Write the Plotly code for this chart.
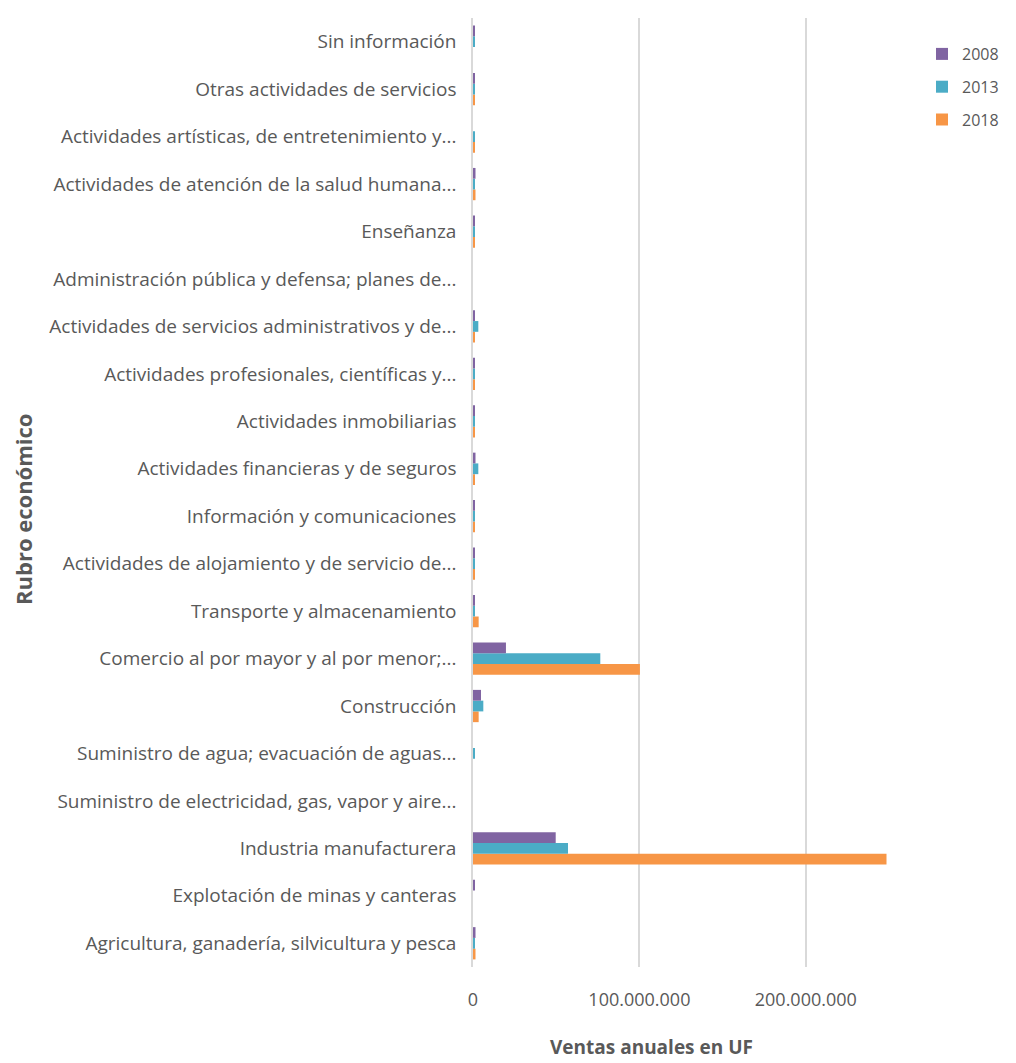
import plotly.graph_objects as go

categories = [
    "Agricultura, ganadería, silvicultura y pesca",
    "Explotación de minas y canteras",
    "Industria manufacturera",
    "Suministro de electricidad, gas, vapor y aire...",
    "Suministro de agua; evacuación de aguas...",
    "Construcción",
    "Comercio al por mayor y al por menor;...",
    "Transporte y almacenamiento",
    "Actividades de alojamiento y de servicio de...",
    "Información y comunicaciones",
    "Actividades financieras y de seguros",
    "Actividades inmobiliarias",
    "Actividades profesionales, científicas y...",
    "Actividades de servicios administrativos y de...",
    "Administración pública y defensa; planes de...",
    "Enseñanza",
    "Actividades de atención de la salud humana...",
    "Actividades artísticas, de entretenimiento y...",
    "Otras actividades de servicios",
    "Sin información",
]

ventas_2008 = [1.5e6, 1.2e6, 49.7e6, 0, 0, 4.8e6, 19.8e6, 1.2e6, 1.2e6, 1.2e6,
               1.5e6, 1.2e6, 1.2e6, 1.2e6, 0, 1.2e6, 1.5e6, 0, 1.2e6, 1.2e6]
ventas_2013 = [1.2e6, 0, 57.1e6, 0, 1.2e6, 6.2e6, 76.5e6, 1.0e6, 1.0e6, 1.0e6,
               3.2e6, 1.0e6, 1.2e6, 3.2e6, 0, 1.0e6, 1.2e6, 1.2e6, 1.0e6, 1.2e6]
ventas_2018 = [1.5e6, 0, 248.5e6, 0, 0, 3.4e6, 100.3e6, 3.4e6, 1.2e6, 1.2e6,
               1.2e6, 1.2e6, 1.2e6, 1.2e6, 0, 1.2e6, 1.5e6, 1.2e6, 1.2e6, 0]

# (name, values, colour, legend rank) — added bottom-to-top within each group
series = [("2018", ventas_2018, "#F79646", 3),
          ("2013", ventas_2013, "#4BACC6", 2),
          ("2008", ventas_2008, "#8064A2", 1)]

fig = go.Figure()
for name, vals, color, rank in series:
    fig.add_trace(go.Bar(
        y=categories, x=vals, name=name, orientation="h",
        marker=dict(color=color, line=dict(width=0)),
        legendgroup=name, legendrank=rank,
    ))

font_family = "'Open Sans', Lato, sans-serif"
gray = "#595959"

# page body has an 8px margin; plot area spans x 473..889, y 18..967 on the page
W, H = 1008, 1055
ML, MT, MR, MB = 465, 10, 127, 96
PW = W - ML - MR
PH = H - MT - MB

def px_x(x):
    return (x - 8 - ML) / PW

def px_y(y):
    return 1 - (y - 8 - MT) / PH

fig.update_layout(
    width=W, height=H,
    margin=dict(l=ML, r=MR, t=MT, b=MB, autoexpand=False),
    paper_bgcolor="white", plot_bgcolor="white",
    barmode="group", bargap=0.32, bargroupgap=0,
    separators=",.",
    font=dict(family=font_family, color=gray, size=17),
    legend=dict(
        traceorder="grouped", tracegroupgap=9,
        x=px_x(922), xanchor="left", y=px_y(37), yanchor="top",
        font=dict(size=16, color=gray), itemwidth=30,
        bgcolor="rgba(0,0,0,0)",
    ),
    xaxis=dict(
        range=[0, 2.5e8], dtick=1e8, tick0=0, tickformat=",d",
        showgrid=True, gridcolor="#D9D9D9", gridwidth=1.5,
        zeroline=False, showline=False,
        ticks="", ticklabelstandoff=20,
        tickfont=dict(size=18, color=gray),
        fixedrange=True,
    ),
    yaxis=dict(
        categoryorder="array", categoryarray=categories,
        showline=True, linecolor="#D9D9D9", linewidth=1.5,
        showgrid=False, ticks="", ticklabelstandoff=11,
        tickfont=dict(size=19, color=gray),
        fixedrange=True,
    ),
    annotations=[
        dict(text="<b>Rubro económico</b>", xref="paper", yref="paper",
             x=px_x(23), y=px_y(509), xanchor="center", yanchor="middle",
             textangle=-90, showarrow=False,
             font=dict(size=22, color=gray, family=font_family)),
        dict(text="<b>Ventas anuales en UF</b>", xref="paper", yref="paper",
             x=px_x(651), y=px_y(1047), xanchor="center", yanchor="middle",
             showarrow=False,
             font=dict(size=19, color=gray, family=font_family)),
    ],
)

fig.write_html("out.html")
